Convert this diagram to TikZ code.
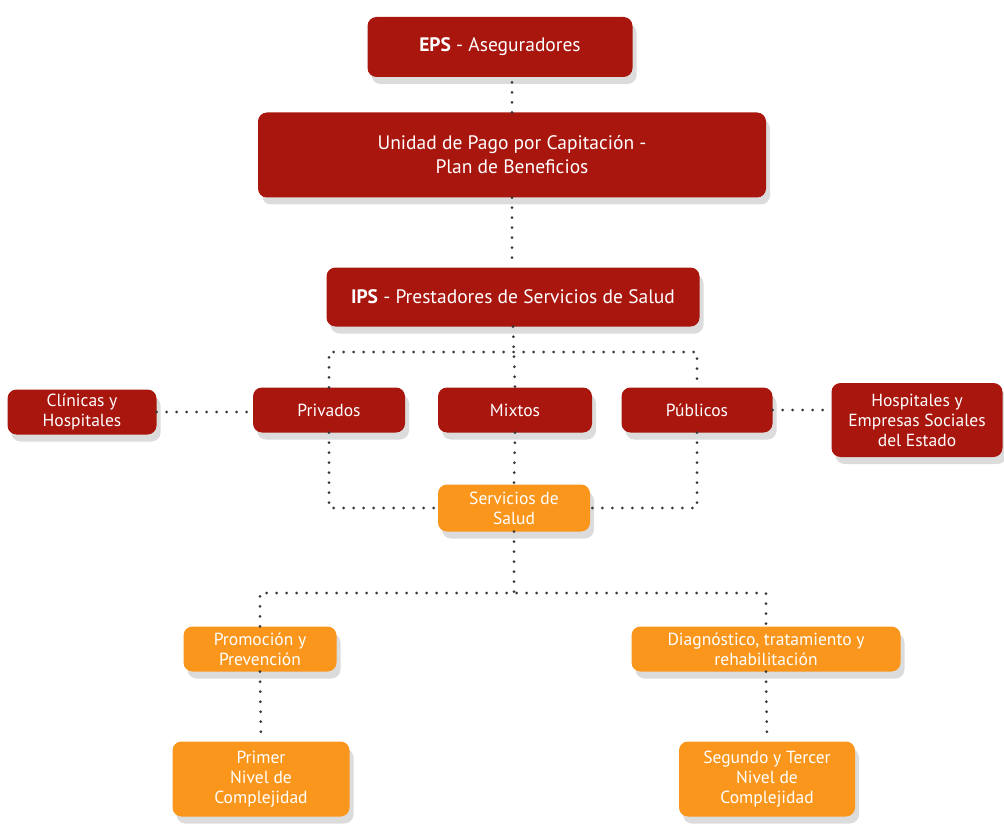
\documentclass[tikz,border=0pt]{standalone}
\usepackage{fontspec}
\setmainfont{PT Sans}
\usetikzlibrary{shadows}
\definecolor{boxred}{RGB}{168,22,14}
\definecolor{boxorange}{RGB}{250,150,28}
\definecolor{dotgray}{RGB}{55,55,55}
\tikzset{
  box/.style={rectangle, rounded corners=9pt, text=white, align=center, inner sep=2pt,
    drop shadow={opacity=0.28, shadow xshift=4pt, shadow yshift=-7pt}},
  redbox/.style={box, fill=boxred},
  orangebox/.style={box, fill=boxorange},
  bigtext/.style={font=\fontsize{19.5}{24}\selectfont},
  smalltext/.style={font=\fontsize{17.5}{20}\selectfont},
  dotline/.style={draw=dotgray, line width=3pt, line cap=round, dash pattern=on 0pt off 10pt},
}
\begin{document}
\begin{tikzpicture}[x=1pt, y=-1pt]
\useasboundingbox (0,0) rectangle (1004,829);
% main chain
\node[redbox, bigtext, minimum width=265pt, minimum height=60pt] (eps) at (500,47) {\textbf{EPS} - Aseguradores};
\node[redbox, bigtext, minimum width=508pt, minimum height=85pt] (upc) at (512,155) {Unidad de Pago por Capitación -\\Plan de Beneficios};
\node[redbox, bigtext, minimum width=373pt, minimum height=59pt] (ips) at (513,297) {\textbf{IPS} - Prestadores de Servicios de Salud};
% second row
\node[redbox, smalltext, minimum width=149pt, minimum height=45pt] (clin) at (82,412) {Clínicas y\\Hospitales};
\node[redbox, smalltext, minimum width=152pt, minimum height=45pt] (priv) at (329,410) {Privados};
\node[redbox, smalltext, minimum width=154pt, minimum height=45pt] (mix) at (515,410) {Mixtos};
\node[redbox, smalltext, minimum width=151pt, minimum height=45pt] (pub) at (697,410) {Públicos};
\node[redbox, smalltext, minimum width=171pt, minimum height=74pt] (hosp) at (917,420) {Hospitales y\\Empresas Sociales\\del Estado};
% services
\node[orangebox, smalltext, minimum width=152pt, minimum height=47pt] (serv) at (514,508) {Servicios de\\Salud};
\node[orangebox, smalltext, minimum width=153pt, minimum height=45pt] (prom) at (260,649) {Promoción y\\Prevención};
\node[orangebox, smalltext, minimum width=269pt, minimum height=45pt] (diag) at (766,649) {Diagnóstico, tratamiento y\\rehabilitación};
\node[orangebox, smalltext, minimum width=177pt, minimum height=75pt] (prim) at (261,779) {Primer\\Nivel de\\Complejidad};
\node[orangebox, smalltext, minimum width=176pt, minimum height=75pt] (seg) at (767,779) {Segundo y Tercer\\Nivel de\\Complejidad};
% bus coordinates
\coordinate (busA) at (514,352);
\coordinate (busB) at (514,593);
% connectors
\draw[dotline] (upc.north) -- (upc.north |- eps.south);
\draw[dotline] (upc.south) -- (upc.south |- ips.north);
\draw[dotline] (ips.south) -- (mix.north);
\draw[dotline] (priv.north) -- (priv.north |- busA) -- (pub.north |- busA) -- (pub.north);
\draw[dotline] (clin.east) -- (clin.east -| priv.west);
\draw[dotline] (pub.east) -- (pub.east -| hosp.west);
\draw[dotline] (mix.south) -- (serv.north);
\draw[dotline] (priv.south) -- (priv.south |- serv.west) -- (serv.west);
\draw[dotline] (pub.south) -- (pub.south |- serv.east) -- (serv.east);
\draw[dotline] (serv.south) -- (busB);
\draw[dotline] (prom.north) -- (prom.north |- busB) -- (diag.north |- busB) -- (diag.north);
\draw[dotline] (prom.south) -- (prim.north);
\draw[dotline] (diag.south) -- (seg.north);
\end{tikzpicture}
\end{document}
